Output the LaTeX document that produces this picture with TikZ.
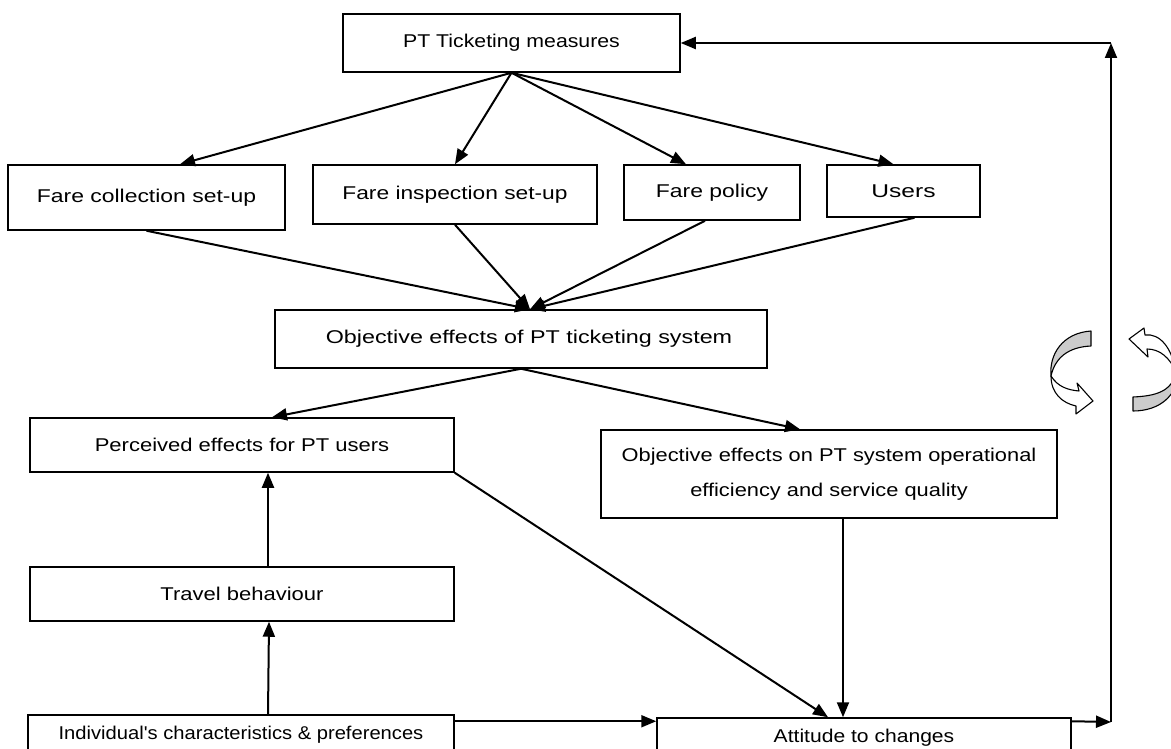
\documentclass[tikz,border=0pt]{standalone}
\usepackage{graphicx}
\usepackage{fontspec}
\setmainfont{Liberation Sans}
\usetikzlibrary{arrows.meta}
\newcommand\sx[2]{\scalebox{#1}[1]{#2}}
\begin{document}
\begin{tikzpicture}[x=1pt,y=-1pt,
  box/.style={draw,line width=1.5pt,inner sep=0pt,font=\fontsize{18.5}{35}\selectfont,align=center},
  conn/.style={line width=2pt,-{Triangle[length=15pt,width=12pt]}},
  ribbon/.style={draw,line width=1.1pt,line join=round}]
\useasboundingbox (0,0) rectangle (1171,749);
% boxes
\node[box,minimum width=337pt,minimum height=58pt] (pt) at (511.5,43) {\sx{1.15}{PT Ticketing measures}};
\node[box,minimum width=277pt,minimum height=65pt] (fc) at (146.5,197.5) {\sx{1.24}{Fare collection set-up}};
\node[box,minimum width=284pt,minimum height=59pt] (fi) at (455,194.5) {\sx{1.23}{Fare inspection set-up}};
\node[box,minimum width=176pt,minimum height=55pt] (fp) at (712,192.5) {\sx{1.24}{Fare policy}};
\node[box,minimum width=153pt,minimum height=52pt] (us) at (903.5,191) {\sx{1.33}{Users}};
\node[box,minimum width=492pt,minimum height=58pt] (obj) at (521,339) {\hspace*{16pt}\sx{1.26}{Objective effects of PT ticketing system}};
\node[box,minimum width=424pt,minimum height=54pt] (pe) at (242,445) {\sx{1.19}{Perceived effects for PT users}};
\node[box,minimum width=456pt,minimum height=88pt] (ops) at (829,474) {\sx{1.18}{Objective effects on PT system operational}\\\sx{1.18}{efficiency and service quality}};
\node[box,minimum width=424pt,minimum height=54pt] (tb) at (242,594) {\sx{1.19}{Travel behaviour}};
\node[box,minimum width=426pt,minimum height=40pt] (ind) at (241,735) {\sx{1.09}{Individual\textquotesingle s characteristics \& preferences}};
\node[box,minimum width=414pt,minimum height=40pt] (att) at (864,738) {\sx{1.14}{Attitude to changes}};
\coordinate (c1) at (1111,722);
\coordinate (c2) at (1111,43);
% connectors
\draw[conn] (pt.south) -- ([xshift=33.5pt]fc.north);
\draw[conn] (pt.south) -- (fi.north);
\draw[conn] (pt.south) -- ([xshift=-26pt]fp.north);
\draw[conn] (pt.south) -- ([xshift=-10pt]us.north);
\draw[conn] (fc.south) -- ([xshift=9pt]obj.north);
\draw[conn] (fi.south) -- ([xshift=9pt]obj.north);
\draw[conn] ([xshift=-7pt]fp.south) -- ([xshift=9pt]obj.north);
\draw[conn] ([xshift=11pt]us.south) -- ([xshift=9pt]obj.north);
\draw[conn] (obj.south) -- ([xshift=30pt]pe.north);
\draw[conn] (obj.south) -- ([xshift=-29pt]ops.north);
\draw[conn] ([xshift=26pt]tb.north) -- ([xshift=26pt]pe.south);
\draw[conn] ([xshift=27pt]ind.north) -- ([xshift=27pt]tb.south);
\draw[conn] (pe.south east) -- ([xshift=-36pt]att.north);
\draw[conn] ([xshift=14pt]ops.south) -- ([xshift=-21pt]att.north);
\draw[conn] ([yshift=-7pt]ind.north east) -- ([yshift=-4pt]att.north west);
\draw[conn] ([yshift=-4pt]att.north east) -- (c1);
\draw[conn] (c1) -- (c2);
\draw[conn] (c2) -- (pt.east);
% circular ribbon arrows
\filldraw[ribbon,fill=gray!40] (1091,331) .. controls (1062,333) and (1049,355) .. (1051,376)
  .. controls (1055,358) and (1068,347) .. (1091,346) -- cycle;
\filldraw[ribbon,fill=white] (1051,376) .. controls (1058,387) and (1068,390) .. (1079,391)
  -- (1077,383) -- (1093,401) -- (1076,414) -- (1076,406)
  .. controls (1062,403) and (1051,393) .. (1051,376) -- cycle;
\filldraw[ribbon,fill=white] (1129,339) -- (1144,328) -- (1145,335)
  .. controls (1160,333) and (1172,348) .. (1176,372)
  .. controls (1170,358) and (1160,349) .. (1147,349)
  -- (1148,357) -- cycle;
\filldraw[ribbon,fill=gray!40] (1176,372) .. controls (1172,392) and (1155,396) .. (1133,397)
  -- (1133,411) .. controls (1160,411) and (1178,395) .. (1178,372) -- cycle;
\end{tikzpicture}
\end{document}
